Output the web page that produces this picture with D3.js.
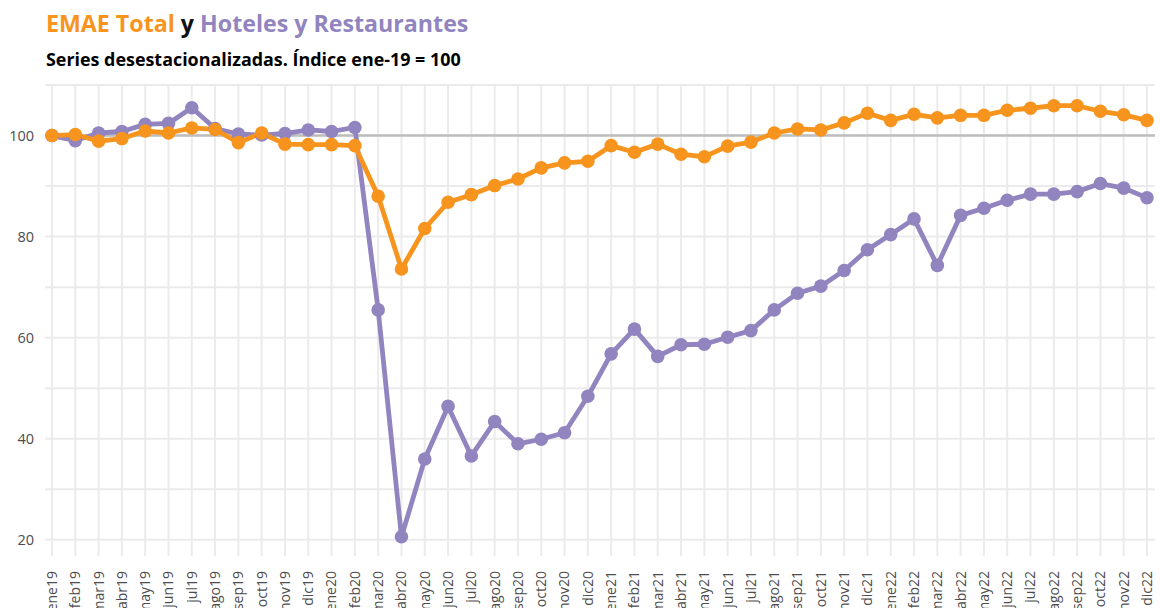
<!DOCTYPE html>
<html lang="es">
<head>
<meta charset="UTF-8">
<title>EMAE Total y Hoteles y Restaurantes</title>
<script src="https://cdn.jsdelivr.net/npm/d3@7"></script>
<style>
  body { margin: 0; background: #fff; }
  svg { display: block; font-family: "Open Sans", "Noto Sans", sans-serif; }
</style>
</head>
<body>
<div id="chart"></div>
<script>
// month labels ene19 .. dic22
const meses = ["ene","feb","mar","abr","may","jun","jul","ago","sep","oct","nov","dic"];
const years = ["19","20","21","22"];
const months = years.flatMap(y => meses.map(m => m + y));

// EMAE total (desestacionalizado, ene-19 = 100)
const emae = [
  100.0, 100.2, 98.9, 99.4, 100.9, 100.5, 101.5, 101.2, 98.6, 100.5, 98.3, 98.2,
  98.2, 98.0, 88.0, 73.6, 81.6, 86.8, 88.3, 90.1, 91.4, 93.6, 94.6, 94.9,
  98.0, 96.7, 98.3, 96.3, 95.8, 97.9, 98.7, 100.5, 101.3, 101.1, 102.5, 104.4,
  103.0, 104.2, 103.5, 104.0, 104.0, 105.0, 105.4, 105.9, 105.9, 104.8, 104.1, 103.0
];

// Hoteles y Restaurantes
const hoteles = [
  100.0, 99.0, 100.5, 100.8, 102.2, 102.4, 105.5, 101.4, 100.3, 100.1, 100.4, 101.1,
  100.8, 101.6, 65.5, 20.6, 36.0, 46.4, 36.6, 43.4, 39.0, 39.9, 41.2, 48.4,
  56.8, 61.7, 56.3, 58.6, 58.7, 60.1, 61.4, 65.5, 68.8, 70.2, 73.3, 77.4,
  80.4, 83.5, 74.3, 84.2, 85.6, 87.2, 88.4, 88.4, 88.9, 90.5, 89.6, 87.7
];

const yTicks = [20, 40, 60, 80, 100];
const yGrid = [20, 30, 40, 50, 60, 70, 80, 90, 100, 110];

const W = 1160, H = 608;
const orange = "#F7941D", purple = "#9284BF";

const svg = d3.select("#chart").append("svg")
  .attr("width", W).attr("height", H);

const x = d3.scalePoint().domain(months).range([52, 1147]);
const y = d3.scaleLinear().domain([16.8, 110]).range([556, 85]);
const left = 45, right = 1155;

// grid
const grid = svg.append("g").attr("stroke", "#ebebeb").attr("stroke-width", 2);
grid.selectAll("line.h").data(yGrid).join("line")
  .attr("x1", left).attr("x2", right)
  .attr("y1", d => y(d)).attr("y2", d => y(d));
grid.selectAll("line.v").data(months).join("line")
  .attr("x1", d => x(d)).attr("x2", d => x(d))
  .attr("y1", y(110)).attr("y2", y(16.8));

// reference line at 100
svg.append("line")
  .attr("x1", left).attr("x2", right)
  .attr("y1", y(100)).attr("y2", y(100))
  .attr("stroke", "#bdbdbd").attr("stroke-width", 2.5);

// y axis labels
svg.append("g").selectAll("text").data(yTicks).join("text")
  .attr("x", 34).attr("y", d => y(d)).attr("dy", "0.35em")
  .attr("text-anchor", "end")
  .attr("font-size", 14.5).attr("fill", "#4d4d4d")
  .text(d => d);

// x axis labels (rotated)
svg.append("g").selectAll("text").data(months).join("text")
  .attr("transform", d => `translate(${x(d)},571) rotate(-90)`)
  .attr("text-anchor", "end").attr("dy", "0.35em")
  .attr("font-size", 14).attr("fill", "#4d4d4d")
  .text(d => d);

const line = d3.line().x((d, i) => x(months[i])).y(d => y(d));

const series = [
  { values: hoteles, color: purple },
  { values: emae, color: orange }
];

series.forEach(s => {
  svg.append("path").datum(s.values)
    .attr("d", line)
    .attr("fill", "none").attr("stroke", s.color)
    .attr("stroke-width", 4.8).attr("stroke-linejoin", "round");
});
series.forEach(s => {
  svg.append("g").selectAll("circle").data(s.values).join("circle")
    .attr("cx", (d, i) => x(months[i])).attr("cy", d => y(d))
    .attr("r", 6.8).attr("fill", s.color);
});

// title
const title = svg.append("text").attr("x", 46).attr("y", 32)
  .attr("font-size", 23.2).attr("font-weight", 700);
title.append("tspan").attr("fill", orange).text("EMAE Total");
title.append("tspan").attr("fill", "#111").text(" y ");
title.append("tspan").attr("fill", purple).text("Hoteles y Restaurantes");

svg.append("text").attr("x", 46).attr("y", 66)
  .attr("font-size", 17.9).attr("font-weight", 700).attr("fill", "#000")
  .text("Series desestacionalizadas. Índice ene-19 = 100");
</script>
</body>
</html>
